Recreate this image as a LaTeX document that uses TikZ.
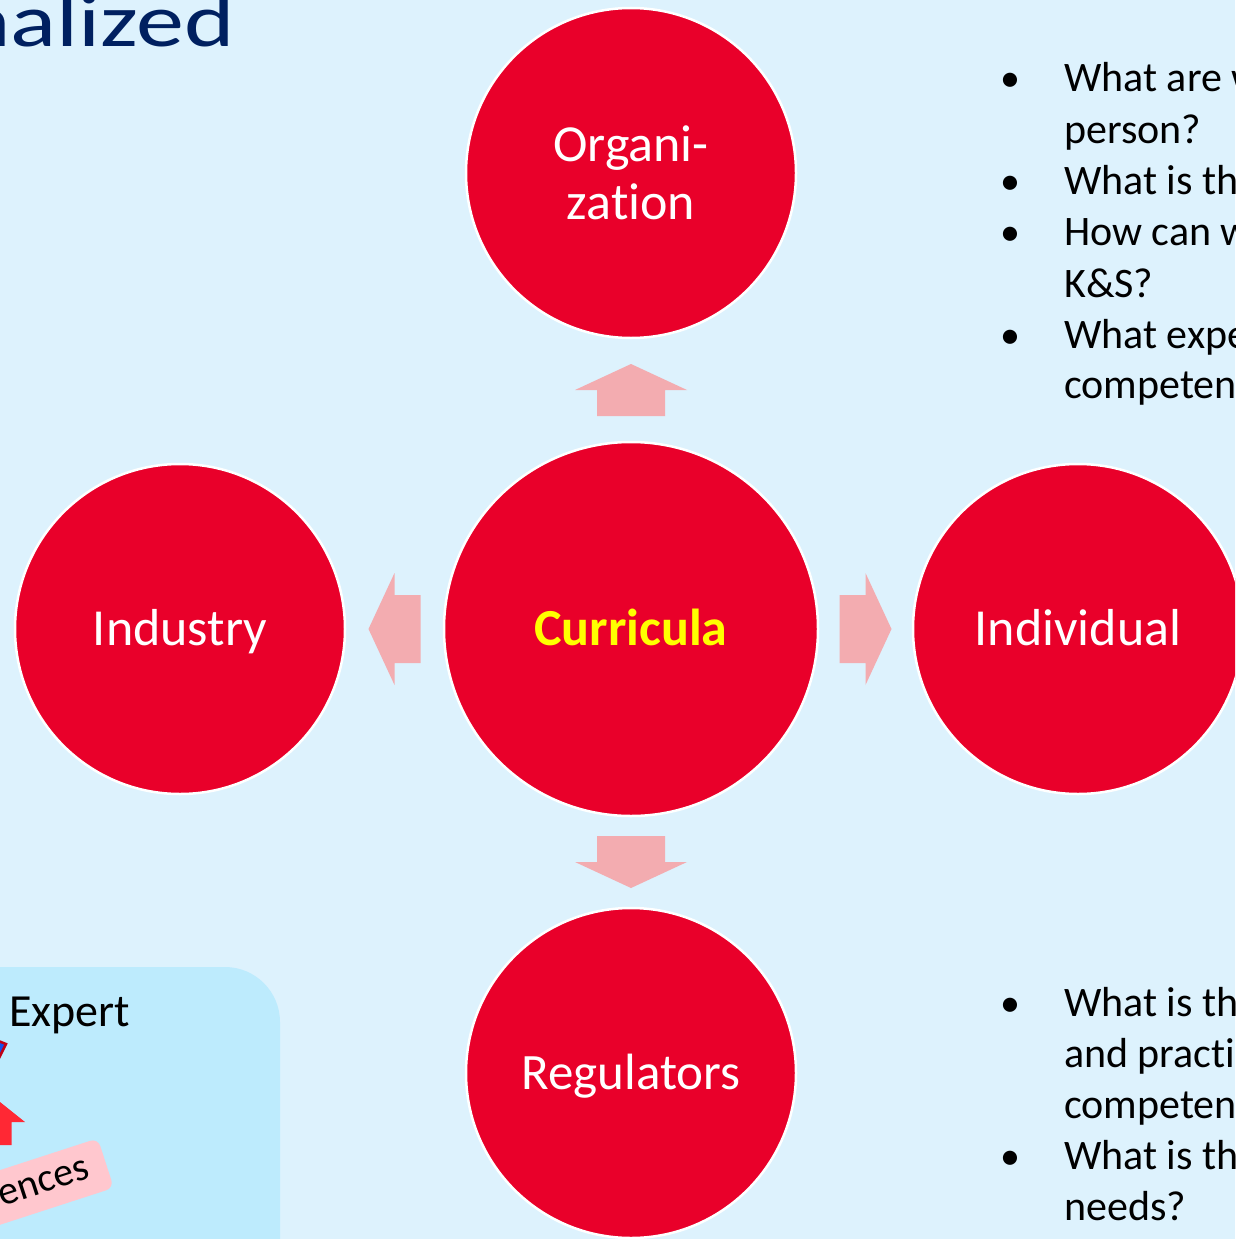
\documentclass[tikz,border=0pt]{standalone}
\usepackage{fontspec}
\setmainfont{Carlito}[Ligatures={NoCommon}]
\usepackage{graphicx}
\usetikzlibrary{calc}

\definecolor{bgblue}{RGB}{221,242,253}
\definecolor{boxblue}{RGB}{189,235,253}
\definecolor{circred}{RGB}{233,0,42}
\definecolor{arrowpink}{RGB}{243,172,176}
\definecolor{titlenavy}{RGB}{0,32,96}
\definecolor{tagpink}{RGB}{255,199,206}
\definecolor{markred}{RGB}{255,40,52}
\definecolor{markblue}{RGB}{20,80,235}
\definecolor{markdark}{RGB}{192,0,20}
\definecolor{hubyellow}{RGB}{255,255,0}

\begin{document}
\begin{tikzpicture}[x=1pt,y=-1pt,
  hub/.style={circle, fill=circred, draw=white, line width=2.5pt, inner sep=0pt,
    text=white, font=\fontsize{52}{58}\selectfont},
  oneline/.style={text height=32pt, text depth=0pt},
  qline/.style={anchor=base west, inner sep=0pt, font=\fontsize{42}{51}\selectfont},
  qbullet/.style={anchor=base, inner sep=0pt, font=\fontsize{40}{51}\selectfont},
  barrow/.pic={\fill[arrowpink] (-26,-34) -- (0,-34) -- (0,-56) -- (26,0)
      -- (0,56) -- (0,34) -- (-26,34) -- cycle;}
]
\useasboundingbox (0,0) rectangle (1235,1239);
\fill[bgblue] (0,0) rectangle (1235,1239);
\clip (0,0) rectangle (1235,1239);

% title fragment
\node[anchor=base east, inner sep=0pt, text=titlenavy,
  font=\fontsize{75}{90}\selectfont] (title) at (235,47) {\scalebox{1.28}[1]{nalized}};

% lower-left panel
\fill[boxblue, rounded corners=55] (-100,967) rectangle (280,1340);
\node[anchor=base west, inner sep=0pt, font=\fontsize{46}{55}\selectfont] (expert) at (9,1026) {Expert};
\filldraw[fill=markblue, draw=markdark, line width=2.5pt] (-14,1036) -- (6,1044) -- (-4,1064) -- cycle;
\fill[markred] (-5,1098) -- (25,1122) -- (11.7,1122) -- (11.7,1145) -- (-21.7,1145)
  -- (-21.7,1122) -- (-35,1122) -- cycle;
\node[rotate=18, anchor=east, fill=tagpink, rounded corners=8pt, minimum height=52pt,
  text width=220pt, align=right, inner xsep=18pt, inner ysep=0pt,
  font=\fontsize{40}{48}\selectfont] (tag) at (106,1163) {ences};

% hub and spokes
\node[hub, minimum size=374pt, text=hubyellow, oneline,
  font=\fontsize{52}{58}\selectfont\bfseries] (cur) at (631,629) {Curricula};
\node[hub, minimum size=330pt, align=center] (org) at (631,173) {Organi-\\zation};
\node[hub, oneline, minimum size=330pt] (ind) at (180,629) {Industry};
\node[hub, oneline, minimum size=330pt] (indiv) at (1078,629) {Individual};
\node[hub, oneline, minimum size=330pt, font=\fontsize{51}{58}\selectfont] (reg) at (631,1073) {Regulators};

\pic[rotate=90] at ($(org.south)!0.5!(cur.north)$) {barrow};
\pic[rotate=270] at ($(cur.south)!0.5!(reg.north)$) {barrow};
\pic[rotate=180] at ($(ind.east)!0.5!(cur.west)$) {barrow};
\pic at ($(cur.east)!0.5!(indiv.west)$) {barrow};

% question lists
\node[qbullet] (b1) at (1010,92) {•};
\node[qline] (q1) at (1064,92) {What are w};
\node[qline] (q1b) at (1064,143) {person?};
\node[qbullet] (b2) at (1010,194) {•};
\node[qline] (q2) at (1064,194) {What is th};
\node[qbullet] (b3) at (1010,245) {•};
\node[qline] (q3) at (1064,245) {How can w};
\node[qline] (q3b) at (1064,297) {K\&S?};
\node[qbullet] (b4) at (1010,348) {•};
\node[qline] (q4) at (1064,348) {What expe};
\node[qline] (q4b) at (1064,398) {competen};

\node[qbullet] (b5) at (1010,1016) {•};
\node[qline] (q5) at (1064,1016) {What is th};
\node[qline] (q5b) at (1064,1067) {and practi};
\node[qline] (q5c) at (1064,1118) {competen};
\node[qbullet] (b6) at (1010,1169) {•};
\node[qline] (q6) at (1064,1169) {What is th};
\node[qline] (q6b) at (1064,1220) {needs?};
\end{tikzpicture}
\end{document}
